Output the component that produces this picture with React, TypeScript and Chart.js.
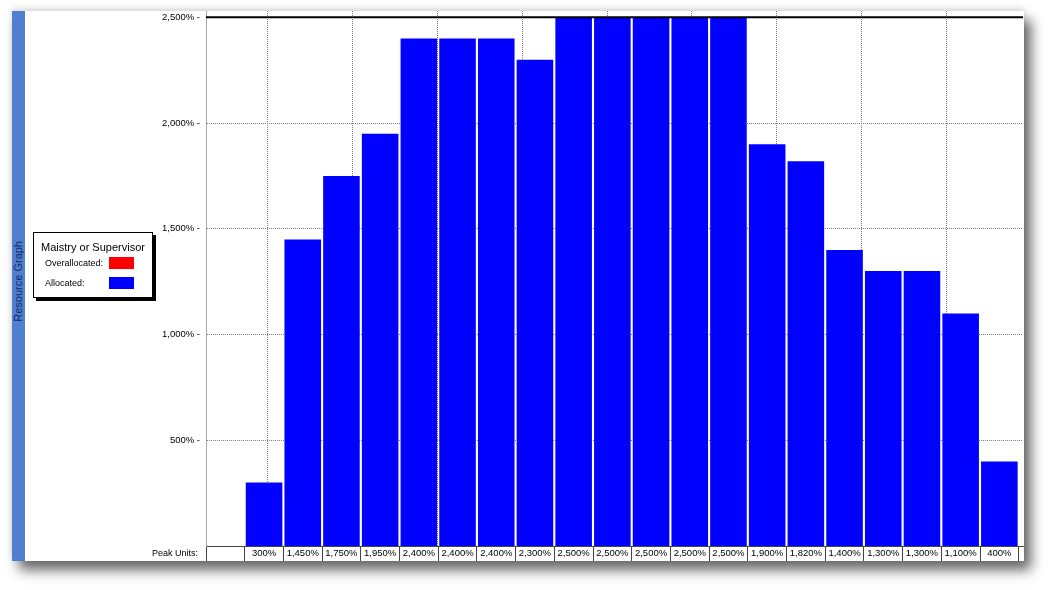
import React, { useEffect, useRef } from 'react';
import { Chart, registerables } from 'chart.js';

Chart.register(...registerables);

// ---- data ----
const resourceName = 'Maistry or Supervisor';
const legendLabels = ['Overallocated:', 'Allocated:'];
const legendColors = ['#ff0000', '#0000ff'];
const peakRowLabel = 'Peak Units:';
const sideTitle = 'Resource Graph';
// allocated units per period (percent); first period slot is empty
const allocated = [300, 1450, 1750, 1950, 2400, 2400, 2400, 2300, 2500, 2500, 2500, 2500, 2500, 1900, 1820, 1400, 1300, 1300, 1100, 400];
const maxUnits = 2500;
const yTicks = [500, 1000, 1500, 2000, 2500];
// timescale (weekly) gridlines, expressed in period units
const timescaleGridlines = [1.602, 3.793, 5.984, 8.175, 10.367, 12.558, 14.749, 16.94, 19.131];

// ---- layout constants ----
const FONT = '"Liberation Sans", Arial, sans-serif';
const FIRST_SLOT = 1;
const SLOT_COUNT = allocated.length + FIRST_SLOT;
const X_MAX = 21.111;
const Y_MAX = 2530;

const fmt = (v: number) => v.toLocaleString('en-US') + '%';

const zeroPad = (a: any) => {
  a.paddingTop = 0;
  a.paddingBottom = 0;
  a.paddingLeft = 0;
  a.paddingRight = 0;
};

export default function App() {
  const ref = useRef<HTMLCanvasElement>(null);

  useEffect(() => {
    document.body.style.margin = '0';
    const chart = new Chart(ref.current as HTMLCanvasElement, {
      type: 'bar',
      data: {
        datasets: [
          {
            type: 'line',
            label: 'Max Units',
            data: [
              { x: 0, y: maxUnits },
              { x: X_MAX, y: maxUnits },
            ],
            borderColor: '#000000',
            borderWidth: 2,
            pointRadius: 0,
            order: 0,
            xAxisID: 'x',
            yAxisID: 'y',
          } as any,
          {
            type: 'bar',
            label: 'Allocated',
            data: allocated.map((v, i) => ({ x: i + FIRST_SLOT + 0.5, y: v })),
            backgroundColor: legendColors[1],
            borderWidth: 0,
            barPercentage: 0.945,
            categoryPercentage: 1,
            order: 1,
            xAxisID: 'x',
            yAxisID: 'y',
          } as any,
        ],
      },
      options: {
        animation: false,
        responsive: false,
        maintainAspectRatio: false,
        layout: { padding: { left: 0, right: 1, top: 0, bottom: 0 } },
        plugins: { legend: { display: false }, tooltip: { enabled: false } },
        scales: {
          x: {
            type: 'linear',
            position: 'top',
            offset: false,
            min: 0,
            max: X_MAX,
            afterBuildTicks: (a: any) => {
              a.ticks = timescaleGridlines.map((v) => ({ value: v }));
            },
            afterFit: (a: any) => {
              a.height = 0;
              zeroPad(a);
            },
            ticks: { display: false },
            grid: { offset: false, color: '#808080', lineWidth: 1, drawTicks: false },
            border: { display: false, dash: [1, 1] },
          } as any,
          peak: {
            type: 'linear',
            position: 'bottom',
            offset: false,
            min: 0,
            max: X_MAX,
            afterBuildTicks: (a: any) => {
              a.ticks = Array.from({ length: SLOT_COUNT + 1 }, (_, i) => ({ value: i }));
            },
            afterFit: (a: any) => {
              a.height = 15;
              zeroPad(a);
            },
            ticks: {
              autoSkip: false,
              maxRotation: 0,
              minRotation: 0,
              labelOffset: 19.35,
              padding: -13,
              color: '#000000',
              font: { family: FONT, size: 9.5 },
              callback: (v: any) => {
                const i = Math.round(Number(v)) - FIRST_SLOT;
                return i >= 0 && i < allocated.length ? fmt(allocated[i]) : '';
              },
            },
            grid: { offset: false, drawOnChartArea: false, drawTicks: true, tickLength: 15, tickColor: '#444444', tickWidth: 1 },
            border: { display: true, color: '#444444', width: 1 },
          } as any,
          y: {
            type: 'linear',
            min: 0,
            max: Y_MAX,
            afterBuildTicks: (a: any) => {
              a.ticks = yTicks.map((v) => ({ value: v }));
            },
            afterFit: (a: any) => {
              a.width = 194;
              zeroPad(a);
            },
            ticks: {
              padding: 6,
              color: '#000000',
              font: { family: FONT, size: 9.5 },
              callback: (v: any) => fmt(Number(v)) + ' -',
            },
            grid: { color: '#808080', lineWidth: 1, drawTicks: false },
            border: { display: true, color: '#a8a8a8', width: 1, dash: [1, 1] },
          } as any,
        },
      },
    });
    return () => chart.destroy();
  }, []);

  return (
    <div style={{ position: 'fixed', left: 0, top: 0, width: 1050, height: 590, background: '#ffffff', overflow: 'hidden' }}>
      <div
        style={{
          position: 'absolute',
          left: 12,
          top: 11,
          width: 1012,
          height: 550,
          background: '#ffffff',
          boxShadow: '7px 9px 12px rgba(0,0,0,0.6), 0 -3px 6px rgba(0,0,0,0.12)',
        }}
      >
        <canvas ref={ref} width={1012} height={550} style={{ position: 'absolute', left: 0, top: 0, width: 1012, height: 550 }} />
        <div style={{ position: 'absolute', left: 0, top: 0, width: 13, height: 550, background: '#4f7fd0' }} />
        <div
          style={{
            position: 'absolute',
            left: 0,
            top: 230,
            width: 13,
            height: 80,
            display: 'flex',
            alignItems: 'center',
            justifyContent: 'center',
          }}
        >
          <span
            style={{
              writingMode: 'vertical-rl',
              transform: 'rotate(180deg)',
              fontFamily: FONT,
              fontSize: 11,
              color: '#14296a',
              whiteSpace: 'nowrap',
              lineHeight: '13px',
            }}
          >
            {sideTitle}
          </span>
        </div>
        <div
          style={{
            position: 'absolute',
            left: 21,
            top: 221,
            width: 120,
            height: 66,
            boxSizing: 'border-box',
            border: '1px solid #000',
            background: '#fff',
            boxShadow: '3px 3px 0 #000',
            fontFamily: FONT,
          }}
        >
          <div style={{ position: 'absolute', left: 0, top: 8, width: 118, textAlign: 'center', fontSize: 11, lineHeight: '13px', whiteSpace: 'nowrap' }}>
            {resourceName}
          </div>
          {legendLabels.map((lab, i) => (
            <React.Fragment key={lab}>
              <div style={{ position: 'absolute', left: 11, top: 24 + i * 20, fontSize: 9, lineHeight: '12px', whiteSpace: 'nowrap' }}>{lab}</div>
              <div style={{ position: 'absolute', left: 75, top: 24 + i * 20, width: 25, height: 12, background: legendColors[i] }} />
            </React.Fragment>
          ))}
        </div>
        <div
          style={{
            position: 'absolute',
            right: 1012 - 186,
            top: 536,
            fontFamily: FONT,
            fontSize: 9,
            lineHeight: '12px',
            whiteSpace: 'nowrap',
            textAlign: 'right',
          }}
        >
          {peakRowLabel}
        </div>
      </div>
    </div>
  );
}
